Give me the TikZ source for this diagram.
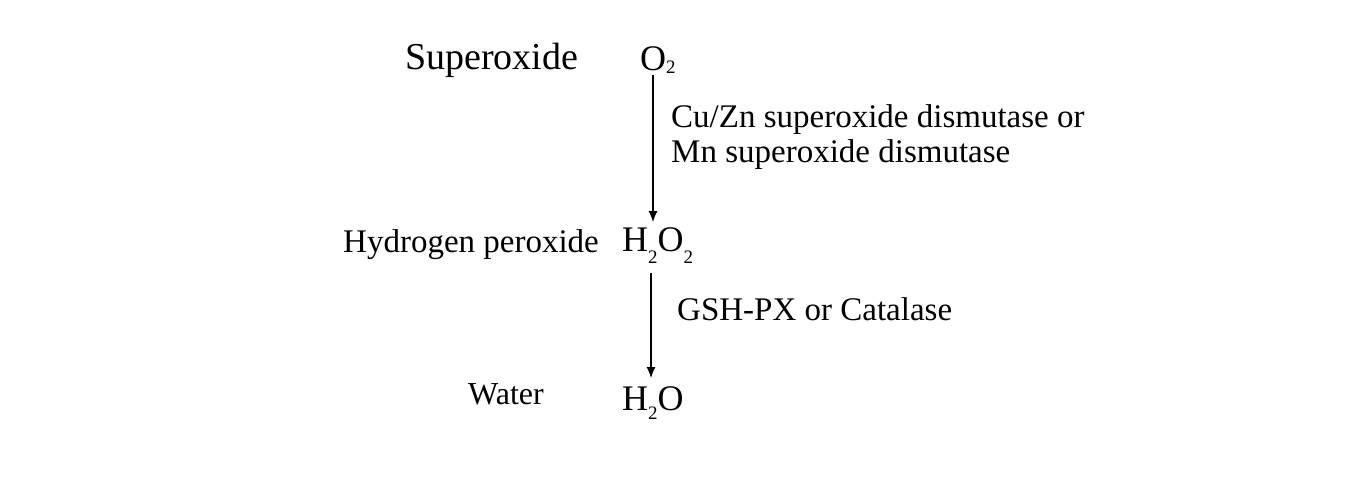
\documentclass[tikz,border=0pt]{standalone}
\usepackage{fontspec}
\setmainfont{Liberation Serif}
\usetikzlibrary{arrows.meta}
\tikzset{
  lbl/.style={anchor=base west, inner sep=0pt, font=\fontsize{33}{35}\selectfont},
  big/.style={anchor=base west, inner sep=0pt, font=\fontsize{38}{40}\selectfont},
  chem/.style={anchor=base west, inner sep=0pt, font=\fontsize{36}{40}\selectfont},
  arr/.style={line width=1.1pt, -{Latex[length=11pt,width=9pt]}}
}
\newcommand{\sbs}[2]{\raisebox{-#1pt}{\fontsize{19}{20}\selectfont #2}}
\begin{document}
\begin{tikzpicture}[x=1pt,y=-1pt]
\useasboundingbox (0,0) rectangle (1368,482);
\fill[white] (0,0) rectangle (1368,482);
\node[big] (sup) at (405,69) {Superoxide};
\node[chem] (o2) at (640,70) {O\sbs{3}{2}};
\node[lbl] (hp) at (343,252) {Hydrogen peroxide};
\node[chem] (h2o2) at (622,251) {H\sbs{12}{2}O\sbs{12}{2}};
\node[big, font=\fontsize{32}{34}\selectfont] (wat) at (468,404) {Water};
\node[chem] (h2o) at (622,410) {H\sbs{9}{2}O};
\node[lbl] (e1) at (671,127) {Cu/Zn superoxide dismutase or};
\node[lbl] (e2) at (671,162) {Mn superoxide dismutase};
\node[lbl] (e3) at (677,320) {GSH-PX or Catalase};
\coordinate (a1s) at (653,75);
\coordinate (a1e) at (653,222);
\coordinate (a2s) at (651,273);
\coordinate (a2e) at (651,378);
\draw[arr] (a1s) -- (a1e);
\draw[arr] (a2s) -- (a2e);
\end{tikzpicture}
\end{document}
